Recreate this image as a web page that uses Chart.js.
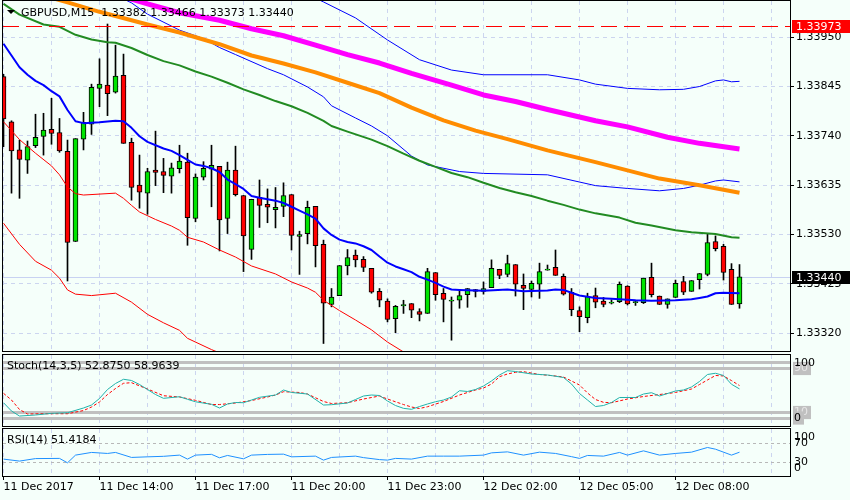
<!DOCTYPE html>
<html>
<head>
<meta charset="utf-8">
<title>GBPUSD,M15</title>
<script src="https://cdn.jsdelivr.net/npm/chart.js@4.4.1/dist/chart.umd.min.js"></script>
<style>
  html, body { margin: 0; padding: 0; background: #f5fffa; }
  #wrap { position: relative; width: 850px; height: 500px; overflow: hidden; background: #f5fffa; }
  #wrap canvas { position: absolute; left: 0; }
</style>
</head>
<body>
<div id="wrap">
  <canvas id="priceChart" width="850" height="352" style="top:0"></canvas>
  <canvas id="stochChart" width="850" height="76" style="top:352px"></canvas>
  <canvas id="rsiChart" width="850" height="73" style="top:427px"></canvas>
</div>
<script>
// ---- values (M15 bars, bar 0 = 11 Dec 11:00) ----
const timeLabels = ['11 Dec 2017', '11 Dec 14:00', '11 Dec 17:00', '11 Dec 20:00',
  '11 Dec 23:00', '12 Dec 02:00', '12 Dec 05:00', '12 Dec 08:00'];

const opens = [1.33866, 1.33770, 1.33710, 1.33688, 1.33719, 1.33739, 1.33754, 1.33747, 1.33707, 1.33515,
  1.33733, 1.33765, 1.33841, 1.33848, 1.33833, 1.33869, 1.33726, 1.33635, 1.33618, 1.33667,
  1.33664, 1.33654, 1.33670, 1.33684, 1.33564, 1.33652, 1.33669, 1.33675, 1.33564, 1.33667,
  1.33613, 1.33498, 1.33609, 1.33594, 1.33583, 1.33590, 1.33615, 1.33526, 1.33532, 1.33590,
  1.33509, 1.33381, 1.33400, 1.33463, 1.33486, 1.33477, 1.33458, 1.33409, 1.33388, 1.33351,
  1.33378, 1.33383, 1.33366, 1.33362, 1.33449, 1.33405, 1.33388, 1.33390, 1.33402, 1.33413,
  1.33409, 1.33417, 1.33456, 1.33445, 1.33466, 1.33422, 1.33413, 1.33424, 1.33454, 1.33460,
  1.33441, 1.33407, 1.33368, 1.33353, 1.33400, 1.33388, 1.33384, 1.33387, 1.33420, 1.33385,
  1.33385, 1.33439, 1.33399, 1.33381, 1.33396, 1.33430, 1.33409, 1.33434, 1.33445, 1.33515,
  1.33505, 1.33456, 1.33382];
const highs = [1.33871, 1.33772, 1.33731, 1.33729, 1.33786, 1.33788, 1.33820, 1.33777, 1.33731, 1.33734,
  1.33790, 1.33850, 1.33904, 1.33978, 1.33933, 1.33914, 1.33735, 1.33699, 1.33671, 1.33750,
  1.33692, 1.33682, 1.33720, 1.33703, 1.33659, 1.33685, 1.33720, 1.33675, 1.33684, 1.33718,
  1.33613, 1.33605, 1.33646, 1.33627, 1.33630, 1.33640, 1.33615, 1.33537, 1.33601, 1.33590,
  1.33518, 1.33415, 1.33464, 1.33498, 1.33497, 1.33483, 1.33458, 1.33415, 1.33393, 1.33379,
  1.33390, 1.33383, 1.33372, 1.33458, 1.33449, 1.33415, 1.33397, 1.33412, 1.33415, 1.33413,
  1.33429, 1.33476, 1.33456, 1.33486, 1.33466, 1.33446, 1.33431, 1.33469, 1.33465, 1.33497,
  1.33446, 1.33415, 1.33376, 1.33405, 1.33416, 1.33396, 1.33391, 1.33429, 1.33421, 1.33390,
  1.33437, 1.33469, 1.33399, 1.33393, 1.33433, 1.33441, 1.33432, 1.33447, 1.33532, 1.33527,
  1.33509, 1.33468, 1.33466];
const lows = [1.33717, 1.33618, 1.33607, 1.33660, 1.33715, 1.33699, 1.33722, 1.33705, 1.33431, 1.33515,
  1.33710, 1.33743, 1.33802, 1.33783, 1.33831, 1.33724, 1.33603, 1.33586, 1.33573, 1.33634,
  1.33619, 1.33618, 1.33661, 1.33507, 1.33557, 1.33646, 1.33589, 1.33495, 1.33532, 1.33612,
  1.33451, 1.33477, 1.33545, 1.33555, 1.33544, 1.33568, 1.33497, 1.33445, 1.33510, 1.33461,
  1.33298, 1.33376, 1.33400, 1.33444, 1.33461, 1.33451, 1.33405, 1.33376, 1.33344, 1.33321,
  1.33362, 1.33353, 1.33346, 1.33362, 1.33390, 1.33344, 1.33305, 1.33373, 1.33375, 1.33397,
  1.33403, 1.33417, 1.33436, 1.33440, 1.33399, 1.33370, 1.33397, 1.33394, 1.33454, 1.33443,
  1.33401, 1.33357, 1.33323, 1.33342, 1.33374, 1.33376, 1.33382, 1.33385, 1.33380, 1.33379,
  1.33383, 1.33397, 1.33381, 1.33373, 1.33396, 1.33402, 1.33409, 1.33414, 1.33442, 1.33495,
  1.33433, 1.33381, 1.33373];
const closes = [1.33776, 1.33708, 1.33690, 1.33717, 1.33737, 1.33752, 1.33745, 1.33708, 1.33513, 1.33734,
  1.33769, 1.33843, 1.33850, 1.33830, 1.33867, 1.33724, 1.33630, 1.33620, 1.33664, 1.33662,
  1.33656, 1.33672, 1.33686, 1.33566, 1.33652, 1.33671, 1.33677, 1.33561, 1.33667, 1.33615,
  1.33527, 1.33605, 1.33592, 1.33588, 1.33588, 1.33613, 1.33528, 1.33530, 1.33588, 1.33506,
  1.33384, 1.33397, 1.33464, 1.33481, 1.33476, 1.33460, 1.33407, 1.33390, 1.33349, 1.33377,
  1.33381, 1.33369, 1.33360, 1.33451, 1.33402, 1.33392, 1.33388, 1.33400, 1.33415, 1.33409,
  1.33415, 1.33458, 1.33443, 1.33468, 1.33424, 1.33415, 1.33426, 1.33451, 1.33454, 1.33443,
  1.33403, 1.33370, 1.33355, 1.33398, 1.33386, 1.33381, 1.33384, 1.33424, 1.33382, 1.33385,
  1.33437, 1.33402, 1.33381, 1.33393, 1.33426, 1.33407, 1.33432, 1.33447, 1.33513, 1.33500,
  1.33449, 1.33381, 1.33440];

// indicator lines as [bar, value]
const fastMa = [[0, 1.33936], [2, 1.33886], [3, 1.33870], [4, 1.33857], [5, 1.33848], [6, 1.33835], [7, 1.33824],
  [8, 1.33795], [9, 1.33771], [10, 1.33767], [12, 1.33769], [14, 1.33772], [15, 1.33771], [16, 1.33757],
  [17, 1.33739], [18, 1.33727], [20, 1.33713], [21, 1.33708], [22, 1.33699], [23, 1.33689], [24, 1.33679],
  [25, 1.33676], [26, 1.33671], [27, 1.33663], [28, 1.33647], [29, 1.33637], [30, 1.33627], [31, 1.33612],
  [32, 1.33608], [34, 1.33602], [35, 1.33597], [36, 1.33589], [37, 1.33581], [38, 1.33573], [39, 1.33564],
  [40, 1.33543], [41, 1.33529], [42, 1.33519], [43, 1.33514], [44, 1.33511], [45, 1.33505], [46, 1.33497],
  [47, 1.33483], [48, 1.33470], [49, 1.33462], [50, 1.33456], [51, 1.33450], [52, 1.33440], [53, 1.33434],
  [54, 1.33427], [55, 1.33419], [56, 1.33413], [57, 1.33412], [60, 1.33410], [63, 1.33413], [65, 1.33409],
  [68, 1.33411], [69, 1.33413], [70, 1.33412], [71, 1.33406], [72, 1.33400], [74, 1.33395], [76, 1.33393],
  [79, 1.33390], [81, 1.33389], [84, 1.33390], [86, 1.33392], [87, 1.33395], [88, 1.33398], [89, 1.33405],
  [90, 1.33406], [92, 1.33405]];
const slowMa = [[0, 1.34021], [2, 1.33998], [5, 1.33977], [7, 1.33972], [9, 1.33955], [11, 1.33945], [13, 1.33939],
  [14, 1.33938], [16, 1.33927], [18, 1.33912], [20, 1.33899], [22, 1.33890], [24, 1.33877], [26, 1.33866],
  [28, 1.33853], [30, 1.33839], [32, 1.33827], [34, 1.33814], [36, 1.33803], [38, 1.33789], [40, 1.33772],
  [41, 1.33761], [43, 1.33749], [46, 1.33732], [48, 1.33718], [50, 1.33702], [52, 1.33687], [54, 1.33674],
  [56, 1.33661], [58, 1.33652], [60, 1.33640], [62, 1.33629], [64, 1.33620], [66, 1.33612], [68, 1.33602],
  [70, 1.33593], [72, 1.33583], [74, 1.33575], [77, 1.33566], [79, 1.33555], [81, 1.33549], [84, 1.33539],
  [86, 1.33535], [89, 1.33531], [91, 1.33524], [92, 1.33523]];
const orangeMa = [[0, 1.34063], [8, 1.34024], [12, 1.34004], [18, 1.33977], [22, 1.33960], [27, 1.33935],
  [31, 1.33911], [35, 1.33894], [39, 1.33875], [43, 1.33853], [47, 1.33831], [51, 1.33800], [55, 1.33773],
  [59, 1.33751], [63, 1.33733], [68, 1.33709], [74, 1.33684], [82, 1.33649], [87, 1.33635], [92, 1.33619]];
const magentaMa = [[0, 1.34112], [12, 1.34051], [18, 1.34021], [22, 1.34002], [27, 1.33986], [31, 1.33968],
  [35, 1.33953], [39, 1.33933], [43, 1.33913], [47, 1.33895], [51, 1.33873], [56, 1.33848], [60, 1.33827],
  [64, 1.33813], [68, 1.33796], [74, 1.33772], [78, 1.33759], [83, 1.33737], [87, 1.33724], [92, 1.33712]];
const blueBandOuter = [[37, 1.34049], [40, 1.34025], [44, 1.33991], [48, 1.33944], [52, 1.33902], [56, 1.33880],
  [60, 1.33870], [68, 1.33870], [72, 1.33859], [74, 1.33850], [78, 1.33841], [82, 1.33838], [85, 1.33839],
  [87, 1.33845], [89, 1.33857], [90, 1.33859], [91, 1.33855], [92, 1.33856]];
const blueBandInner = [[14, 1.34040], [16, 1.34023], [18, 1.33999], [22, 1.33965], [25, 1.33947], [27, 1.33928],
  [29, 1.33913], [33, 1.33883], [35, 1.33870], [38, 1.33844], [40, 1.33823], [41, 1.33804], [44, 1.33778],
  [46, 1.33761], [48, 1.33740], [51, 1.33697], [53, 1.33678], [57, 1.33664], [60, 1.33660], [68, 1.33657],
  [74, 1.33634], [78, 1.33628], [82, 1.33623], [85, 1.33628], [87, 1.33635], [89, 1.33644], [90, 1.33646],
  [92, 1.33642]];
const redBandInner = [[0, 1.33770], [2, 1.33732], [4, 1.33703], [6, 1.33676], [7, 1.33657], [8, 1.33631],
  [9, 1.33617], [10, 1.33614], [14, 1.33618], [15, 1.33607], [16, 1.33592], [17, 1.33578], [19, 1.33562],
  [21, 1.33548], [22, 1.33539], [23, 1.33524], [25, 1.33514], [27, 1.33497], [29, 1.33482], [31, 1.33463],
  [34, 1.33446], [36, 1.33429], [38, 1.33416], [39, 1.33407], [40, 1.33390], [42, 1.33368], [44, 1.33348],
  [46, 1.33327], [48, 1.33301], [50, 1.33280], [52, 1.33258]];
const redBandOuter = [[0, 1.33554], [2, 1.33509], [4, 1.33473], [6, 1.33454], [7, 1.33437], [8, 1.33412],
  [9, 1.33403], [11, 1.33400], [14, 1.33405], [16, 1.33386], [18, 1.33360], [20, 1.33342], [22, 1.33326],
  [23, 1.33309], [26, 1.33285], [28, 1.33271]];

const stochMain = [[0, 27.8], [1, 12.7], [2, 3.6], [4, 5.5], [6, 8.5], [8, 9.6], [10, 18.2], [11, 23.6], [12, 35.5],
  [13, 51.8], [14, 62.7], [15, 70.4], [16, 68.2], [17, 60.9], [18, 51.8], [19, 42.7], [20, 35.8], [22, 38.7],
  [23, 34.0], [24, 29.5], [26, 24.9], [27, 18.2], [28, 25.5], [29, 28.2], [30, 27.8], [31, 32.7], [32, 37.6],
  [34, 41.8], [35, 50.9], [36, 46.4], [38, 43.6], [40, 23.6], [41, 24.2], [43, 27.3], [44, 33.6], [45, 40.0],
  [46, 41.8], [47, 40.9], [48, 30.9], [49, 22.7], [50, 17.6], [51, 15.8], [52, 20.9], [53, 25.5], [54, 29.6],
  [55, 32.7], [56, 38.2], [57, 49.6], [58, 48.2], [59, 51.8], [60, 58.2], [61, 67.3], [62, 78.2], [63, 86.0],
  [64, 84.5], [66, 80.0], [68, 78.2], [70, 73.6], [71, 61.8], [72, 44.5], [73, 32.7], [74, 20.9], [75, 22.7],
  [76, 28.2], [77, 37.3], [79, 37.3], [80, 43.6], [81, 46.0], [82, 40.0], [84, 49.1], [85, 50.9], [86, 56.4],
  [87, 66.4], [88, 79.1], [89, 81.3], [90, 77.3], [91, 61.3], [92, 52.875]];
const stochSignal = [[0, 44.9], [1, 32.7], [2, 15.5], [3, 7.3], [5, 7.8], [8, 7.8], [10, 13.6], [11, 20.0],
  [12, 29.1], [13, 42.7], [14, 53.6], [15, 63.1], [16, 64.2], [18, 52.7], [20, 40.5], [22, 38.2], [24, 32.2],
  [26, 24.5], [27, 24.5], [29, 27.3], [31, 31.8], [33, 38.2], [34, 41.8], [35, 47.8], [37, 46.4], [38, 43.6],
  [40, 30.0], [41, 26.4], [43, 27.8], [45, 34.5], [47, 40.0], [48, 34.5], [50, 24.5], [51, 20.0], [52, 17.3],
  [53, 20.5], [55, 30.0], [57, 41.8], [59, 50.9], [60, 54.5], [61, 61.8], [62, 75.1], [63, 80.0], [64, 83.1],
  [65, 84.2], [67, 79.1], [69, 76.4], [70, 74.5], [71, 67.3], [72, 60.0], [73, 45.5], [74, 33.6], [75, 28.5],
  [76, 27.8], [78, 34.5], [80, 39.1], [82, 42.7], [84, 46.4], [85, 49.6], [86, 52.7], [87, 60.9], [88, 69.1],
  [89, 77.3], [90, 76.4], [91, 68.0], [92, 58.9639]];
const rsiLine = [[0, 36.5], [2, 32.2], [4, 37.6], [7, 38.0], [8, 28.5], [9, 45.1], [11, 50.9], [13, 48.7],
  [14, 50.9], [16, 40.1], [18, 41.4], [20, 42.5], [22, 45.1], [23, 36.5], [24, 45.1], [26, 46.8], [27, 39.3],
  [28, 44.4], [30, 37.1], [31, 45.1], [33, 46.6], [35, 47.2], [36, 41.4], [39, 42.9], [40, 34.3], [41, 40.1],
  [44, 42.9], [45, 39.7], [47, 35.4], [48, 34.3], [49, 38.0], [51, 36.5], [53, 42.9], [55, 42.9], [57, 42.9],
  [60, 45.1], [61, 50.0], [63, 52.1], [65, 45.1], [67, 51.5], [69, 48.7], [71, 41.8], [72, 38.0], [73, 44.4],
  [75, 42.9], [77, 50.9], [78, 45.1], [80, 54.3], [82, 45.1], [84, 48.7], [86, 51.5], [88, 61.6], [89, 57.9],
  [91, 45.1], [92, 51.4184]];

const priceTicks = [1.33320, 1.33425, 1.33530, 1.33635, 1.33740, 1.33845, 1.33950];
const alertPrice = 1.33973;
const stochLevels = [10, 90, 0, 100];   // extremes last so their labels sit on top
const rsiLevels = [30, 70];

// ---- look ----
const GRID = '#ccd5ef';
const BULL = '#00e400';
const BEAR = '#ff0000';
const FONT_FAMILY = '"DejaVu Sans", sans-serif';
const X_MIN = -0.0625, X_MAX = 98.3125;   // 8 px per bar
const AXIS_W = 60;

Chart.defaults.font.family = FONT_FAMILY;
Chart.defaults.font.size = 11;
Chart.defaults.color = '#000';
Chart.defaults.animation = false;

const lastPrice = closes[closes.length - 1];
const xy = pts => pts.map(p => ({ x: p[0], y: p[1] }));

function tickLabel(idx) {
  return idx % 2 === 0 && timeLabels[idx / 2] ? timeLabels[idx / 2] : '';
}

function timeAxis(withLabels) {
  return {
    type: 'linear', min: X_MIN, max: X_MAX, offset: false, bounds: 'data',
    afterBuildTicks: s => {
      const t = [];
      for (let v = 0; v <= 96; v += 6) t.push({ value: v });
      s.ticks = t;
    },
    afterFit: s => { s.height = withLabels ? 24 : 0; s.paddingLeft = 0; s.paddingRight = 0; },
    grid: {
      color: GRID, offset: false, drawTicks: withLabels, tickLength: 4,
      tickColor: c => tickLabel(c.index) ? '#000' : 'rgba(0,0,0,0)'
    },
    border: { display: false, dash: [4, 4] },
    ticks: {
      display: withLabels, autoSkip: false, maxRotation: 0, minRotation: 0,
      align: 'start', padding: 1, callback: (v, i) => tickLabel(i)
    }
  };
}

function rightAxis(extra) {
  return Object.assign({
    position: 'right', bounds: 'data',
    afterFit: s => { s.width = AXIS_W; s.paddingTop = 0; s.paddingBottom = 0; }
  }, extra);
}

function lineSet(points, color, width, dash) {
  return {
    type: 'line', data: xy(points), borderColor: color, borderWidth: width,
    borderDash: dash || [], pointRadius: 0, tension: 0, fill: false,
    borderJoinStyle: 'round'
  };
}

const paneFrame = {
  id: 'paneFrame',
  afterDraw(chart) {
    const { ctx, chartArea: a } = chart;
    ctx.save();
    ctx.strokeStyle = '#000';
    ctx.lineWidth = 1;
    ctx.strokeRect(a.left - 0.5, a.top - 0.5, a.right - a.left + 1, a.bottom - a.top + 1);
    ctx.restore();
  }
};

const baseOptions = {
  responsive: false,
  events: [],
  plugins: { legend: { display: false }, tooltip: { enabled: false } }
};

// ---- price pane ----
const priceOverlay = {
  id: 'priceOverlay',
  beforeDatasetsDraw(chart) {
    const { ctx, chartArea: a, scales: { y } } = chart;
    const yb = Math.round(y.getPixelForValue(lastPrice)) + 0.5;
    ctx.save();
    ctx.strokeStyle = '#c8d2f2';
    ctx.lineWidth = 1;
    ctx.beginPath(); ctx.moveTo(a.left, yb); ctx.lineTo(a.right, yb); ctx.stroke();
    ctx.restore();
  },
  afterDatasetsDraw(chart) {
    const { ctx, chartArea: a, scales: { y } } = chart;
    const ya = Math.round(y.getPixelForValue(alertPrice)) + 0.5;
    ctx.save();
    ctx.strokeStyle = '#ff0000';
    ctx.lineWidth = 1;
    ctx.setLineDash([16, 7]);
    ctx.beginPath(); ctx.moveTo(a.left, ya); ctx.lineTo(a.right, ya); ctx.stroke();
    ctx.restore();
  },
  afterDraw(chart) {
    const { ctx, chartArea: a, scales: { y } } = chart;
    ctx.save();
    ctx.font = '11px ' + FONT_FAMILY;
    ctx.textBaseline = 'middle';
    ctx.textAlign = 'left';
    const tag = (value, bg) => {
      const yc = Math.round(y.getPixelForValue(value));
      ctx.fillStyle = bg;
      ctx.fillRect(a.right + 2, yc - 6, chart.width - a.right - 2, 13);
      ctx.fillStyle = '#fff';
      ctx.fillText(value.toFixed(5), a.right + 6, yc + 1);
    };
    tag(alertPrice, '#ff0000');
    tag(lastPrice, '#000');
    // header
    const n = closes.length - 1;
    ctx.fillStyle = '#000';
    ctx.beginPath(); ctx.moveTo(7, 10); ctx.lineTo(15, 10); ctx.lineTo(11, 14); ctx.closePath(); ctx.fill();
    const ohlc = [opens[n], highs[n], lows[n], closes[n]].map(v => v.toFixed(5)).join(' ');
    ctx.fillText('GBPUSD,M15  ' + ohlc, 21, 13);
    ctx.restore();
  }
};

new Chart(document.getElementById('priceChart'), {
  type: 'line',
  data: {
    datasets: [
      lineSet(fastMa, '#0000ff', 2),
      lineSet(slowMa, '#228b22', 2),
      lineSet(orangeMa, '#ff8c00', 4),
      lineSet(magentaMa, '#ff00ff', 5),
      lineSet(blueBandOuter, '#0000ff', 1),
      lineSet(blueBandInner, '#0000ff', 1),
      lineSet(redBandInner, '#ff0000', 1),
      lineSet(redBandOuter, '#ff0000', 1),
      {
        type: 'bar',
        data: opens.map((o, i) => ({ x: i, y: [o, closes[i]] })),
        backgroundColor: c => closes[c.dataIndex] >= opens[c.dataIndex] ? BULL : BEAR,
        borderColor: '#000', borderWidth: 1, borderSkipped: false,
        barThickness: 5, minBarLength: 1, grouped: false
      },
      {
        type: 'bar',
        data: lows.map((l, i) => ({ x: i, y: [l, highs[i]] })),
        backgroundColor: '#000', borderWidth: 0,
        barThickness: 1, minBarLength: 1, grouped: false
      }
    ]
  },
  options: Object.assign({}, baseOptions, {
    layout: { padding: { left: 3, top: 1, right: 0, bottom: 1 } },
    scales: {
      x: timeAxis(false),
      y: rightAxis({
        min: 1.33282, max: 1.34027,
        afterBuildTicks: s => { s.ticks = priceTicks.map(v => ({ value: v })); },
        grid: { color: GRID, tickColor: '#000', tickLength: 4 },
        border: { display: false, dash: [4, 4] },
        ticks: { autoSkip: false, padding: 2, callback: v => v.toFixed(5) }
      })
    }
  }),
  plugins: [priceOverlay, paneFrame]
});

// ---- stochastic pane ----
const stochOverlay = {
  id: 'stochOverlay',
  afterDraw(chart) {
    const { ctx } = chart;
    const m = stochMain[stochMain.length - 1][1], s = stochSignal[stochSignal.length - 1][1];
    ctx.save();
    ctx.font = '11px ' + FONT_FAMILY;
    ctx.textBaseline = 'middle';
    ctx.fillStyle = '#000';
    ctx.fillText('Stoch(14,3,5) ' + m.toFixed(4) + ' ' + s.toFixed(4), 7, 14);
    ctx.restore();
  }
};

new Chart(document.getElementById('stochChart'), {
  type: 'line',
  data: {
    datasets: [
      lineSet(stochMain, '#20b2aa', 1),
      lineSet(stochSignal, '#ff0000', 1, [3, 2])
    ]
  },
  options: Object.assign({}, baseOptions, {
    layout: { padding: { left: 3, top: 3, right: 0, bottom: 2 } },
    scales: {
      x: timeAxis(false),
      y: rightAxis({
        min: -14.5, max: 114.5,
        afterBuildTicks: s => { s.ticks = stochLevels.map(v => ({ value: v })); },
        grid: { color: '#c0c0c0', lineWidth: 3, drawTicks: false },
        border: { display: false },
        ticks: {
          autoSkip: false, padding: 4,
          color: c => (c.tick.value === 10 || c.tick.value === 90) ? '#e6e6e6' : '#000',
          showLabelBackdrop: c => c.tick.value !== 100,
          backdropColor: '#c0c0c0',
          backdropPadding: { top: 0, bottom: 0, left: 1, right: 3 },
          callback: v => String(v)
        }
      })
    }
  }),
  plugins: [stochOverlay, paneFrame]
});

// ---- RSI pane ----
const rsiOverlay = {
  id: 'rsiOverlay',
  afterDraw(chart) {
    const { ctx, chartArea: a } = chart;
    ctx.save();
    ctx.font = '11px ' + FONT_FAMILY;
    ctx.textBaseline = 'middle';
    ctx.fillStyle = '#000';
    ctx.fillText('RSI(14) ' + rsiLine[rsiLine.length - 1][1].toFixed(4), 7, 13);
    // scale extremes are printed inside the pane edges
    ctx.fillText('100', a.right + 4, a.top + 8);
    ctx.fillText('0', a.right + 4, a.bottom - 8);
    ctx.restore();
  }
};

new Chart(document.getElementById('rsiChart'), {
  type: 'line',
  data: { datasets: [lineSet(rsiLine, '#1e90ff', 1)] },
  options: Object.assign({}, baseOptions, {
    layout: { padding: { left: 3, top: 2, right: 0, bottom: 0 } },
    scales: {
      x: timeAxis(true),
      y: rightAxis({
        min: 0, max: 101.5,
        afterBuildTicks: s => { s.ticks = rsiLevels.map(v => ({ value: v })); },
        grid: { color: '#b8b8b8', drawTicks: false },
        border: { display: false, dash: [3, 3] },
        ticks: { autoSkip: false, padding: 4, callback: v => String(v) }
      })
    }
  }),
  plugins: [rsiOverlay, paneFrame]
});
</script>
</body>
</html>
